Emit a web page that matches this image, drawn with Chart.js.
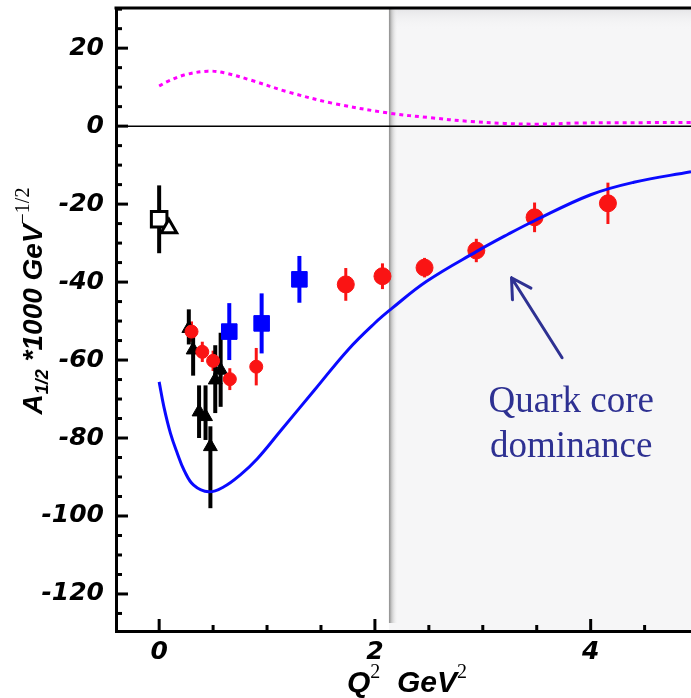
<!DOCTYPE html>
<html>
<head>
<meta charset="utf-8">
<script src="https://cdn.jsdelivr.net/npm/chart.js@4.4.0/dist/chart.umd.min.js"></script>
<style>
    html, body { margin: 0; padding: 0; background: #fff; }
</style>
</head>
<body>
<canvas id="helicityChart" width="691" height="698"></canvas>
<script>
// axis ranges and labelled ticks
const xRange = [-0.4, 4.93];
const yRange = [-129.5, 30.3];
const xTickValues = [0, 2, 4];
const yTickValues = [-120, -100, -80, -60, -40, -20, 0, 20];

// quark model (solid blue)
const quarkQ2 = [0, 0.044, 0.105, 0.168, 0.23, 0.32, 0.46, 0.6, 0.75, 0.91, 1.13, 1.44, 1.75, 2.0, 2.16, 2.48, 2.94, 3.23, 3.47, 4.0, 4.4, 4.93];
const quarkA = [-65.6, -72.0, -78.8, -83.9, -88.2, -92.1, -93.8, -92.5, -89.5, -85.3, -78.0, -67.7, -57.4, -50.5, -46.7, -39.8, -32.2, -27.8, -24.4, -17.6, -14.4, -11.7];

// meson cloud (dotted magenta)
const cloudQ2 = [0, 0.075, 0.23, 0.45, 0.6, 0.85, 1.19, 1.62, 2.14, 2.5, 2.88, 3.2, 3.5, 3.9, 4.5, 4.93];
const cloudA = [10.3, 11.4, 13.1, 14.1, 13.7, 11.8, 8.8, 5.8, 3.3, 2.2, 1.2, 0.7, 0.5, 0.8, 0.9, 0.9];

// filled black triangles
const triQ2 = [0.275, 0.315, 0.37, 0.43, 0.475, 0.52, 0.57];
const triA = [-51.9, -57.4, -73.3, -74.5, -82.2, -65.1, -62.6];
const triLo = [-56, -64, -80, -80.5, -98, -73.6, -72];
const triHi = [-47, -53, -66.5, -66.5, -77, -56.2, -53];

// small red circles
const redSmallQ2 = [0.30, 0.40, 0.50, 0.655, 0.90];
const redSmallA = [-52.7, -57.9, -60.2, -64.9, -61.7];
const redSmallErr = [2.6, 2.6, 2.6, 2.8, 4.8];

// large red circles
const redQ2 = [1.73, 2.07, 2.46, 2.94, 3.48, 4.16];
const redA = [-40.6, -38.5, -36.3, -31.9, -23.4, -19.8];
const redErr = [4.2, 3.3, 2.5, 3.0, 3.8, 5.3];

// blue squares
const blueQ2 = [0.65, 0.95, 1.30];
const blueA = [-52.7, -50.6, -39.3];
const blueErr = [7.3, 7.7, 6.0];

// open square and open triangle at the photon point
const openSqQ2 = [0];
const openSqA = [-23.9];
const openSqErr = [8.7];
const openTriQ2 = [0.09];
const openTriA = [-26.2];

const shadeFrom = 2.13;
const noteLines = ['Quark core', 'dominance'];

function pts(xs, ys) {
    return xs.map((x, i) => ({ x: x, y: ys[i] }));
}
function symErr(ys, e, sign) {
    return ys.map((y, i) => y + sign * e[i]);
}

const backdropPlugin = {
    id: 'backdrop',
    beforeDraw(chart) {
        const { ctx, chartArea: a, scales: { x, y } } = chart;
        ctx.save();
        ctx.fillStyle = '#fff';
        ctx.fillRect(0, 0, chart.width, chart.height);

        // shaded high-Q2 band
        const sx = x.getPixelForValue(shadeFrom);
        ctx.fillStyle = '#f6f6f7';
        ctx.fillRect(sx, a.top, a.right - sx, a.bottom - a.top);
        let g = ctx.createLinearGradient(0, a.top, 0, a.top + 22);
        g.addColorStop(0, '#e4e4e6');
        g.addColorStop(1, 'rgba(246,246,247,0)');
        ctx.fillStyle = g;
        ctx.fillRect(sx, a.top, a.right - sx, 22);
        g = ctx.createLinearGradient(sx, 0, sx + 9, 0);
        g.addColorStop(0, '#8c8c8c');
        g.addColorStop(0.3, '#c8c8c8');
        g.addColorStop(1, 'rgba(246,246,247,0)');
        ctx.fillStyle = g;
        ctx.fillRect(sx, a.top, 9, a.bottom - a.top - 8);

        // zero line
        const y0 = y.getPixelForValue(0);
        ctx.strokeStyle = '#000';
        ctx.lineWidth = 1.5;
        ctx.beginPath();
        ctx.moveTo(a.left, y0);
        ctx.lineTo(a.right, y0);
        ctx.stroke();

        // top frame line
        ctx.lineWidth = 3;
        ctx.beginPath();
        ctx.moveTo(a.left - 1.5, a.top);
        ctx.lineTo(a.right, a.top);
        ctx.stroke();

        // inward tick marks
        ctx.lineWidth = 3;
        for (let v = -125; v <= 30; v += 5) {
            const py = y.getPixelForValue(v);
            const len = v % 20 === 0 ? 12 : 6;
            ctx.beginPath();
            ctx.moveTo(a.left, py);
            ctx.lineTo(a.left + len, py);
            ctx.stroke();
        }
        for (let v = 0; v <= 4.5; v += 0.5) {
            const pxl = x.getPixelForValue(v);
            const len = v % 2 === 0 ? 12 : 6;
            ctx.beginPath();
            ctx.moveTo(pxl, a.bottom);
            ctx.lineTo(pxl, a.bottom - len);
            ctx.stroke();
        }
        ctx.restore();
    }
};

const errorBarPlugin = {
    id: 'errorBars',
    beforeDatasetsDraw(chart) {
        const { ctx, scales: { y } } = chart;
        ctx.save();
        chart.data.datasets.forEach((ds, di) => {
            if (!ds.errLo) return;
            const meta = chart.getDatasetMeta(di);
            ctx.strokeStyle = ds.errColor;
            ctx.lineWidth = ds.errWidth;
            meta.data.forEach((el, i) => {
                ctx.beginPath();
                ctx.moveTo(el.x, y.getPixelForValue(ds.errLo[i]));
                ctx.lineTo(el.x, y.getPixelForValue(ds.errHi[i]));
                ctx.stroke();
            });
        });
        ctx.restore();
    }
};

const notePlugin = {
    id: 'note',
    afterDatasetsDraw(chart) {
        const { ctx, scales: { x, y } } = chart;
        ctx.save();
        ctx.fillStyle = '#2e3192';
        ctx.font = '37px "Liberation Serif"';
        ctx.textAlign = 'center';
        ctx.textBaseline = 'alphabetic';
        ctx.fillText(noteLines[0], x.getPixelForValue(3.82), y.getPixelForValue(-73.3));
        ctx.fillText(noteLines[1], x.getPixelForValue(3.82), y.getPixelForValue(-84.9));

        const x1 = x.getPixelForValue(3.735), y1 = y.getPixelForValue(-59.4);
        const x2 = x.getPixelForValue(3.266), y2 = y.getPixelForValue(-38.9);
        ctx.strokeStyle = '#2e3192';
        ctx.lineWidth = 3;
        ctx.lineCap = 'round';
        ctx.beginPath();
        ctx.moveTo(x1, y1);
        ctx.lineTo(x2, y2);
        const ang = Math.atan2(y1 - y2, x1 - x2);
        for (const d of [-0.52, 0.52]) {
            ctx.moveTo(x2, y2);
            ctx.lineTo(x2 + 22 * Math.cos(ang + d), y2 + 22 * Math.sin(ang + d));
        }
        ctx.stroke();
        ctx.restore();
    }
};

// draws a run of [text, font, baselineShift] pieces centred at 0
function drawRun(ctx, parts) {
    let total = 0;
    parts.forEach(p => { ctx.font = p[1]; total += ctx.measureText(p[0]).width; });
    let cx = -total / 2;
    parts.forEach(p => {
        ctx.font = p[1];
        ctx.fillText(p[0], cx, p[2]);
        cx += ctx.measureText(p[0]).width;
    });
}

const titlePlugin = {
    id: 'axisTitles',
    afterDraw(chart) {
        const { ctx } = chart;
        const sup = '20px "Liberation Serif"';
        ctx.save();
        ctx.fillStyle = '#000';
        ctx.textAlign = 'left';
        ctx.textBaseline = 'alphabetic';

        ctx.save();
        ctx.translate(407, 692);
        const bigX = 'italic bold 30px "Liberation Sans"';
        drawRun(ctx, [['Q', bigX, 0], ['2', sup, -14], ['  GeV', bigX, 0], ['2', sup, -14]]);
        ctx.restore();

        ctx.save();
        ctx.translate(42, 301);
        ctx.rotate(-Math.PI / 2);
        const big = 'italic bold 28px "Liberation Sans"';
        const sub = 'italic bold 18px "Liberation Sans"';
        drawRun(ctx, [['A', big, 0], ['1/2', sub, 6], [' *1000 GeV', big, 0], ['\u22121/2', sup, -13]]);
        ctx.restore();
        ctx.restore();
    }
};

const tickFont = { family: 'DejaVu Sans', size: 25, style: 'italic', weight: 'bold' };

const ctx = document.getElementById('helicityChart').getContext('2d');
const helicityChart = new Chart(ctx, {
    type: 'scatter',
    data: {
        datasets: [
            {
                label: 'quark model',
                data: pts(quarkQ2, quarkA),
                showLine: true,
                borderColor: '#0a0aff',
                borderWidth: 3,
                pointRadius: 0,
                tension: 0.4
            },
            {
                label: 'meson cloud',
                data: pts(cloudQ2, cloudA),
                showLine: true,
                borderColor: '#ff00ff',
                borderWidth: 3,
                borderDash: [4, 4],
                pointRadius: 0,
                tension: 0.35
            },
            {
                label: 'red large',
                data: pts(redQ2, redA),
                pointStyle: 'circle',
                pointRadius: 8.5,
                backgroundColor: '#fa1414',
                borderColor: '#fa1414',
                borderWidth: 1,
                errLo: symErr(redA, redErr, -1),
                errHi: symErr(redA, redErr, 1),
                errColor: '#fa1414',
                errWidth: 3
            },
            {
                label: 'red small',
                data: pts(redSmallQ2, redSmallA),
                pointStyle: 'circle',
                pointRadius: 6.5,
                backgroundColor: '#fa1414',
                borderColor: '#fa1414',
                borderWidth: 1,
                errLo: symErr(redSmallA, redSmallErr, -1),
                errHi: symErr(redSmallA, redSmallErr, 1),
                errColor: '#fa1414',
                errWidth: 3
            },
            {
                label: 'blue squares',
                data: pts(blueQ2, blueA),
                pointStyle: 'rect',
                pointRadius: 11,
                backgroundColor: '#0000ff',
                borderColor: '#0000ff',
                borderWidth: 1,
                errLo: symErr(blueA, blueErr, -1),
                errHi: symErr(blueA, blueErr, 1),
                errColor: '#0000ff',
                errWidth: 4
            },
            {
                label: 'black triangles',
                data: pts(triQ2, triA),
                pointStyle: 'triangle',
                pointRadius: 8,
                backgroundColor: '#000',
                borderColor: '#000',
                borderWidth: 1,
                errLo: triLo,
                errHi: triHi,
                errColor: '#000',
                errWidth: 4
            },
            {
                label: 'open triangle',
                data: pts(openTriQ2, openTriA),
                pointStyle: 'triangle',
                pointRadius: 9,
                backgroundColor: '#fff',
                borderColor: '#000',
                borderWidth: 3
            },
            {
                label: 'open square',
                data: pts(openSqQ2, openSqA),
                pointStyle: 'rect',
                pointRadius: 11,
                backgroundColor: '#fff',
                borderColor: '#000',
                borderWidth: 3,
                errLo: symErr(openSqA, openSqErr, -1),
                errHi: symErr(openSqA, openSqErr, 1),
                errColor: '#000',
                errWidth: 4
            }
        ]
    },
    options: {
        responsive: false,
        animation: false,
        layout: { autoPadding: false, padding: { top: 8, right: 0, left: 0, bottom: 0 } },
        plugins: {
            legend: { display: false },
            tooltip: { enabled: false }
        },
        scales: {
            x: {
                type: 'linear',
                min: xRange[0],
                max: xRange[1],
                afterBuildTicks: s => { s.ticks = xTickValues.map(v => ({ value: v })); },
                afterFit: s => { s.height = 67; s.paddingLeft = 0; s.paddingRight = 0; },
                grid: { display: false, drawTicks: false },
                border: { display: true, color: '#000', width: 3 },
                ticks: { color: '#000', font: tickFont, padding: 6, autoSkip: false, maxRotation: 0 }
            },
            y: {
                type: 'linear',
                min: yRange[0],
                max: yRange[1],
                afterBuildTicks: s => { s.ticks = yTickValues.map(v => ({ value: v })); },
                afterFit: s => { s.width = 116; s.paddingTop = 0; s.paddingBottom = 0; },
                grid: { display: false, drawTicks: false },
                border: { display: true, color: '#000', width: 3 },
                ticks: { color: '#000', font: tickFont, padding: 12, autoSkip: false }
            }
        }
    },
    plugins: [backdropPlugin, errorBarPlugin, notePlugin, titlePlugin]
});
</script>
</body>
</html>
